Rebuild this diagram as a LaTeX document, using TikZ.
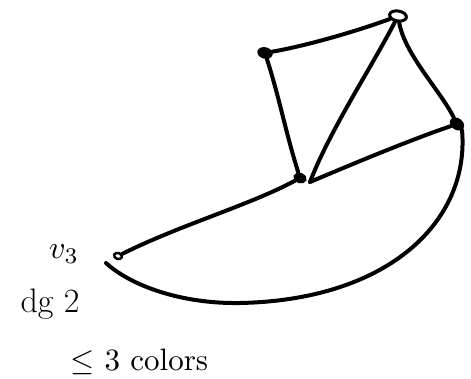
\documentclass[tikz,border=0pt]{standalone}
\usepackage{graphicx}
\usetikzlibrary{shapes.geometric}
\begin{document}
\begin{tikzpicture}[x=1pt,y=-1pt,
  vtx/.style={ellipse,draw,line width=2.5pt,fill=black,minimum width=13pt,minimum height=9pt,inner sep=0pt},
  ring/.style={ellipse,draw,line width=3pt,fill=white,minimum width=17pt,minimum height=10pt,inner sep=0pt},
  edge/.style={line width=4pt,line cap=round},
  lbl/.style={inner sep=0pt}]
\useasboundingbox (0,0) rectangle (471,379);
\node[vtx,rotate=-15] (A) at (265,53) {};
\node[ring,rotate=-10] (B) at (398,16) {};
\node[vtx,rotate=-35] (C) at (457,124) {};
\node[vtx,rotate=-20,minimum width=11pt,minimum height=8pt] (D) at (300,178) {};
\node[ellipse,draw,line width=2.5pt,minimum width=8pt,minimum height=6pt,inner sep=0pt,rotate=-20] (E) at (118,256) {};
\coordinate (D2) at (310,182);
\draw[edge] (A) .. controls (310,45) and (360,30) .. (B);
\draw[edge] (A) .. controls (280,100) and (285,130) .. (D);
\draw[edge] (B) .. controls (370,70) and (330,130) .. (D2);
\draw[edge] (B) .. controls (405,55) and (440,90) .. (C);
\draw[edge] (C) .. controls (410,140) and (350,165) .. (D2);
\draw[edge] (D) .. controls (250,205) and (180,225) .. (E);
\coordinate (Cs) at (462,130);
\coordinate (Ee) at (106,263);
\draw[edge] (Cs) .. controls (470,220) and (390,300) .. (240,303)
  .. controls (180,304) and (130,285) .. (Ee);
\node[lbl] (v3) at (64,254) {\scalebox{3.2}{$v_3$}};
\node[lbl,font=\fontsize{34}{34}\selectfont] (dg) at (50,304) {dg 2};
\node[lbl,anchor=base west] (cl) at (70,370) {\scalebox{3.1}{$\leq$ 3 colors}};
\end{tikzpicture}
\end{document}
